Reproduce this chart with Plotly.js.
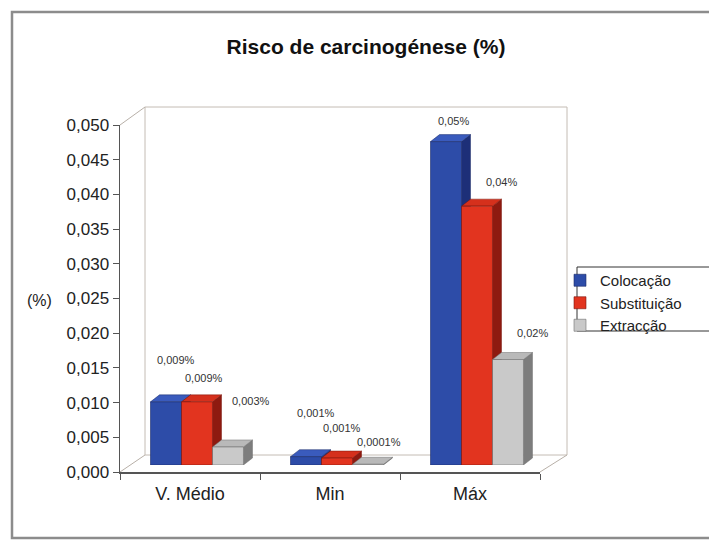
<!DOCTYPE html>
<html>
<head>
<meta charset="utf-8">
<script src="https://cdn.plot.ly/plotly-3.0.1.min.js"></script>
<style>html,body{margin:0;padding:0;background:#fff;}#chart{width:709px;height:540px;}</style>
</head>
<body>
<div id="chart"></div>
<script>
// ---- data ----
const categories = ['V. Médio', 'Min', 'Máx'];
const seriesNames = ['Colocação', 'Substituição', 'Extracção'];
const colocacao = [0.0091, 0.0012, 0.0466];
const substituicao = [0.0091, 0.0010, 0.0373];
const extraccao = [0.0026, 0.0001, 0.0152];
const labelsColocacao = ['0,009%', '0,001%', '0,05%'];
const labelsSubstituicao = ['0,009%', '0,001%', '0,04%'];
const labelsExtraccao = ['0,003%', '0,0001%', '0,02%'];
const yTickVals = [0, 0.005, 0.01, 0.015, 0.02, 0.025, 0.03, 0.035, 0.04, 0.045, 0.05];

// ---- styling / layout helpers ----
const frontColors = ['#2d4ca8', '#e2341f', '#c9c9c9'];
const topColors = ['#3a5bbd', '#d5301c', '#b9b9b9'];
const sideColors = ['#1d2f78', '#8e1a10', '#7d7d7d'];
const edgeColors = ['#1b2a66', '#7a160d', '#6f6f6f'];
const labelShiftX = [[10, 10, 7], [7, 5, 24], [23, 11, 25]];
const labelShiftY = [[42, 44, 21], [24, 30, 24], [46, 22, 27]];

const W = 709, H = 540;
const L = 120, R = 162, T = 118, B = 68;
const PW = W - L - R, PH = H - T - B;
const px = p => (p - L) / PW;
const py = p => (H - B - p) / PH;

const bargap = 0.336;
const bw = (1 - bargap) / 3;
const depthX = 9 / 140;       // category units
const depthY = 7 / 6940;      // value units

const values = [colocacao, substituicao, extraccao];
const labels = [labelsColocacao, labelsSubstituicao, labelsExtraccao];

const traces = [];
// invisible trace to register categories on visible axes
traces.push({
  x: categories, y: [0, 0, 0], type: 'scatter', mode: 'markers',
  marker: {opacity: 0}, showlegend: false, hoverinfo: 'skip', xaxis: 'x', yaxis: 'y'
});
values.forEach((vals, t) => {
  traces.push({
    type: 'bar', x: categories, y: vals, name: seriesNames[t],
    xaxis: 'x2', yaxis: 'y2',
    marker: {color: frontColors[t], line: {color: edgeColors[t], width: 0.6}},
    hoverinfo: 'skip'
  });
});

const shapes = [];
// outer chart border
shapes.push({type: 'rect', xref: 'paper', yref: 'paper', x0: px(12), x1: px(740), y0: py(538), y1: py(12),
  line: {color: '#8c8c8c', width: 2.5}, fillcolor: 'rgba(0,0,0,0)', layer: 'below'});
// back wall
shapes.push({type: 'rect', xref: 'paper', yref: 'paper', x0: px(145), x1: px(567), y0: py(455), y1: py(107),
  line: {color: '#c4bcb4', width: 1}, fillcolor: '#ffffff', layer: 'below'});
// side wall / floor edges
shapes.push({type: 'path', xref: 'paper', yref: 'paper',
  path: `M${px(120)},${py(125)} L${px(145)},${py(107)} M${px(120)},${py(472)} L${px(145)},${py(455)} M${px(540)},${py(472)} L${px(567)},${py(455)}`,
  line: {color: '#b8b0a8', width: 1}, layer: 'below'});
// legend box
shapes.push({type: 'rect', xref: 'paper', yref: 'paper', x0: px(577), x1: px(740), y0: py(331), y1: py(267),
  line: {color: '#333333', width: 1}, fillcolor: '#ffffff', layer: 'below'});

// 3D side and top faces computed from data
for (let i = 0; i < categories.length; i++) {
  for (let t = 0; t < 3; t++) {
    const v = values[t][i];
    const left = i - 1.5 * bw + t * bw;
    const right = left + bw;
    shapes.push({type: 'path', xref: 'x2', yref: 'y2', layer: 'below',
      path: `M${right},0 L${right + depthX},${depthY} L${right + depthX},${v + depthY} L${right},${v} Z`,
      fillcolor: sideColors[t], line: {color: edgeColors[t], width: 0.5}});
    shapes.push({type: 'path', xref: 'x2', yref: 'y2', layer: 'below',
      path: `M${left},${v} L${left + depthX},${v + depthY} L${right + depthX},${v + depthY} L${right},${v} Z`,
      fillcolor: topColors[t], line: {color: edgeColors[t], width: 0.5}});
  }
}

const annotations = [];
for (let t = 0; t < 3; t++) {
  for (let i = 0; i < categories.length; i++) {
    annotations.push({
      xref: 'x2', yref: 'y2', x: i + (t - 1) * bw, y: values[t][i],
      xshift: labelShiftX[t][i], yshift: labelShiftY[t][i],
      text: labels[t][i], showarrow: false,
      font: {family: 'Liberation Sans, Arial, sans-serif', size: 11, color: '#333'}
    });
  }
}
annotations.push({xref: 'paper', yref: 'paper', x: px(39), y: py(300), xanchor: 'center', yanchor: 'middle',
  text: '(%)', showarrow: false,
  font: {family: 'Liberation Sans, Arial, sans-serif', size: 16, color: '#222'}});

const layout = {
  width: W, height: H,
  margin: {l: L, r: R, t: T, b: B, pad: 0},
  paper_bgcolor: '#ffffff', plot_bgcolor: 'rgba(0,0,0,0)',
  separators: ', ',
  font: {family: 'Liberation Sans, Arial, sans-serif', color: '#222'},
  title: {text: 'Risco de carcinogénese (%)', x: 366 / W, xanchor: 'center', y: 1 - 47 / H, yanchor: 'middle',
    font: {family: 'Liberation Sans, Arial, sans-serif', size: 21, weight: 'bold', color: '#111'}},
  barmode: 'group', bargap: bargap, bargroupgap: 0,
  showlegend: true,
  legend: {x: px(560), xanchor: 'left', y: py(264), yanchor: 'top', bgcolor: 'rgba(0,0,0,0)',
    borderwidth: 0, font: {family: 'Liberation Sans, Arial, sans-serif', size: 15, color: '#222'},
    traceorder: 'normal', tracegroupgap: 0},
  xaxis: {domain: [0, 420 / PW], anchor: 'y', type: 'category', categoryarray: categories, range: [-0.5, 2.5],
    showline: true, linecolor: '#555', linewidth: 1.5, ticks: 'outside', ticklen: 6, tickcolor: '#555',
    tickson: 'boundaries', showgrid: false, zeroline: false, fixedrange: true, ticklabelstandoff: 5,
    tickfont: {family: 'Liberation Sans, Arial, sans-serif', size: 18, color: '#222'}},
  yaxis: {domain: [0, 347 / PH], anchor: 'x', range: [0, 0.05], tickvals: yTickVals, tickformat: '.3f',
    showline: true, linecolor: '#555', linewidth: 1.5, ticks: 'outside', ticklen: 6, tickcolor: '#555',
    showgrid: false, zeroline: false, fixedrange: true,
    tickfont: {family: 'Liberation Sans, Arial, sans-serif', size: 17, color: '#222'}},
  xaxis2: {domain: [7 / PW, 1], anchor: 'y2', type: 'category', categoryarray: categories, range: [-0.5, 2.5],
    visible: false, fixedrange: true},
  yaxis2: {domain: [7 / PH, 1], anchor: 'x2', range: [0, 0.05], visible: false, fixedrange: true},
  shapes: shapes,
  annotations: annotations
};

Plotly.newPlot('chart', traces, layout, {displayModeBar: false, staticPlot: true});
</script>
</body>
</html>
